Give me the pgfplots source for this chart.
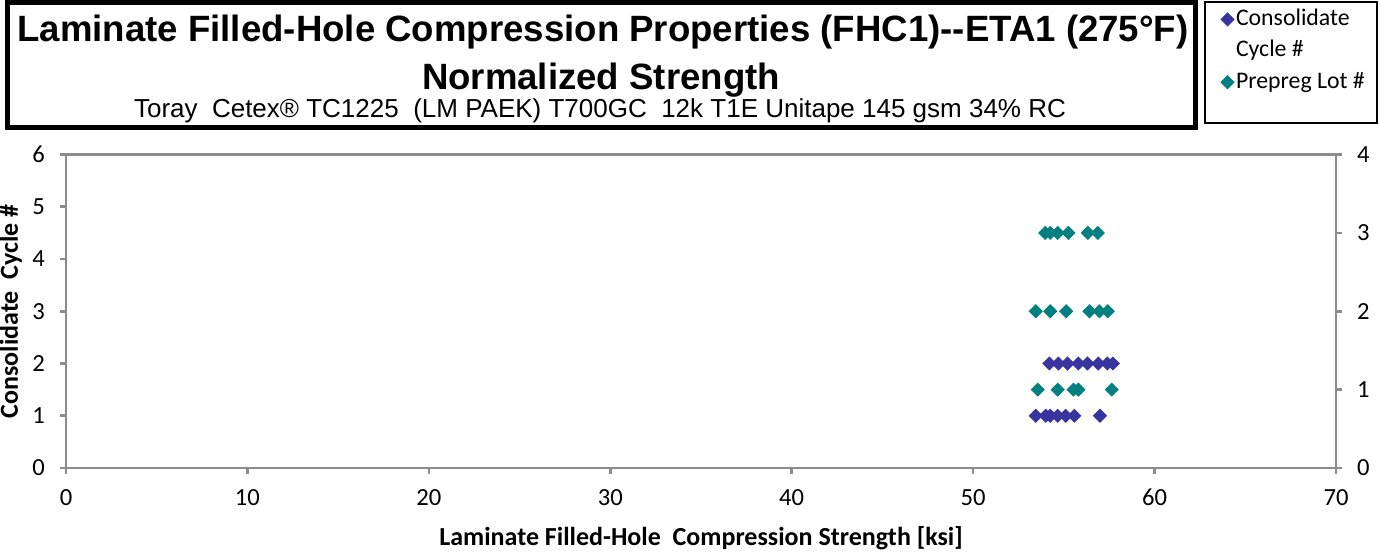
\documentclass[border=0pt]{standalone}
\usepackage{pgfplots}
\pgfplotsset{compat=1.18}
\usepackage{fontspec}
\setmainfont{Carlito}
\newfontfamily\arialfont{Liberation Sans}
\definecolor{cyc}{RGB}{56,52,160}
\definecolor{lot}{RGB}{0,128,128}
\definecolor{axgray}{RGB}{140,140,140}

\pgfplotstableread{
x y
53.45 1
54.00 1
54.25 1
54.66 1
55.10 1
55.58 1
56.99 1
54.20 2
54.70 2
55.20 2
55.80 2
56.30 2
56.90 2
57.40 2
57.70 2
}\cycdata

\pgfplotstableread{
x y
53.56 1
54.66 1
55.53 1
55.80 1
57.64 1
53.45 2
54.25 2
55.13 2
56.41 2
56.96 2
57.42 2
53.97 3
54.25 3
54.66 3
55.25 3
56.32 3
56.87 3
}\lotdata

\begin{document}
\begin{tikzpicture}[x=0.5pt,y=-0.5pt]
\useasboundingbox (0,0) rectangle (1380,559);
% title box
\draw[line width=2.5pt] (7.5,2.5) rectangle (1195,127.5);
\node[anchor=base,inner sep=0pt] at (603,41) {\arialfont\bfseries\fontsize{18.3pt}{20pt}\selectfont Laminate Filled-Hole Compression Properties (FHC1)--ETA1 (275°F)};
\node[anchor=base,inner sep=0pt] at (601,89) {\arialfont\bfseries\fontsize{18.3pt}{20pt}\selectfont Normalized Strength};
\node[anchor=base,inner sep=0pt] at (600,117) {\arialfont\fontsize{13pt}{15pt}\selectfont Toray\ \ Cetex® TC1225\ \ (LM PAEK) T700GC\ \ 12k T1E Unitape 145 gsm 34\% RC};
% legend frame
\draw[line width=0.75pt] (1205,2) rectangle (1377,123);

\pgfplotsset{every axis/.append style={
  scale only axis, width=635pt, height=156.75pt,
  xmin=0, xmax=70,
  axis line style={axgray, line width=1.3pt},
  every tick/.style={axgray, line width=1.3pt},
  major tick length=3pt,
  tick align=outside,
  /pgf/number format/assume math mode=true,
  tick label style={font=\fontsize{12.3pt}{14pt}\selectfont},
  label style={font=\bfseries\fontsize{13pt}{15pt}\selectfont},
}}
\begin{axis}[
  at={(33pt,-234pt)}, anchor=south west,
  ymin=0, ymax=6,
  xtick={0,10,...,70}, ytick={0,1,...,6},
  xtick pos=bottom, ytick pos=left,
  xticklabel style={yshift=-4pt},
  yticklabel style={xshift=-4pt},
  xlabel={Laminate Filled-Hole\ \ Compression Strength [ksi]},
  ylabel={Consolidate\ \ Cycle \#},
  xlabel style={at={(axis description cs:0.5,-0.2233)}, anchor=center},
  ylabel style={at={(axis description cs:-0.0435,0.5)}, anchor=center},
]
\addplot[only marks, mark=square*, mark size=2.3pt, mark options={rotate=45, fill=cyc, draw=cyc}, color=cyc] table[x=x,y=y] {\cycdata};
\end{axis}
\begin{axis}[
  at={(33pt,-234pt)}, anchor=south west,
  ymin=0, ymax=4,
  ytick={0,1,...,4},
  axis y line*=right, axis x line=none,
  yticklabel style={xshift=4pt},
  legend style={draw=none, fill=none, at={(0.9008,1.4737)}, anchor=north west,
    font=\fontsize{11.9pt}{14pt}\selectfont, cells={anchor=west},
    nodes={inner sep=1pt, text height=8.5pt, text depth=2.5pt},
    row sep=2.7pt, inner sep=0pt},
  legend image post style={mark size=2.3pt},
]
\addlegendimage{only marks, mark=square*, mark options={rotate=45, fill=cyc, draw=cyc}, color=cyc}
\addlegendentry{Consolidate}
\addlegendimage{empty legend}
\addlegendentry{Cycle \#}
\addplot[only marks, mark=square*, mark size=2.3pt, mark options={rotate=45, fill=lot, draw=lot}, color=lot] table[x=x,y=y] {\lotdata};
\addlegendentry{Prepreg Lot \#}
\end{axis}
\end{tikzpicture}
\end{document}
